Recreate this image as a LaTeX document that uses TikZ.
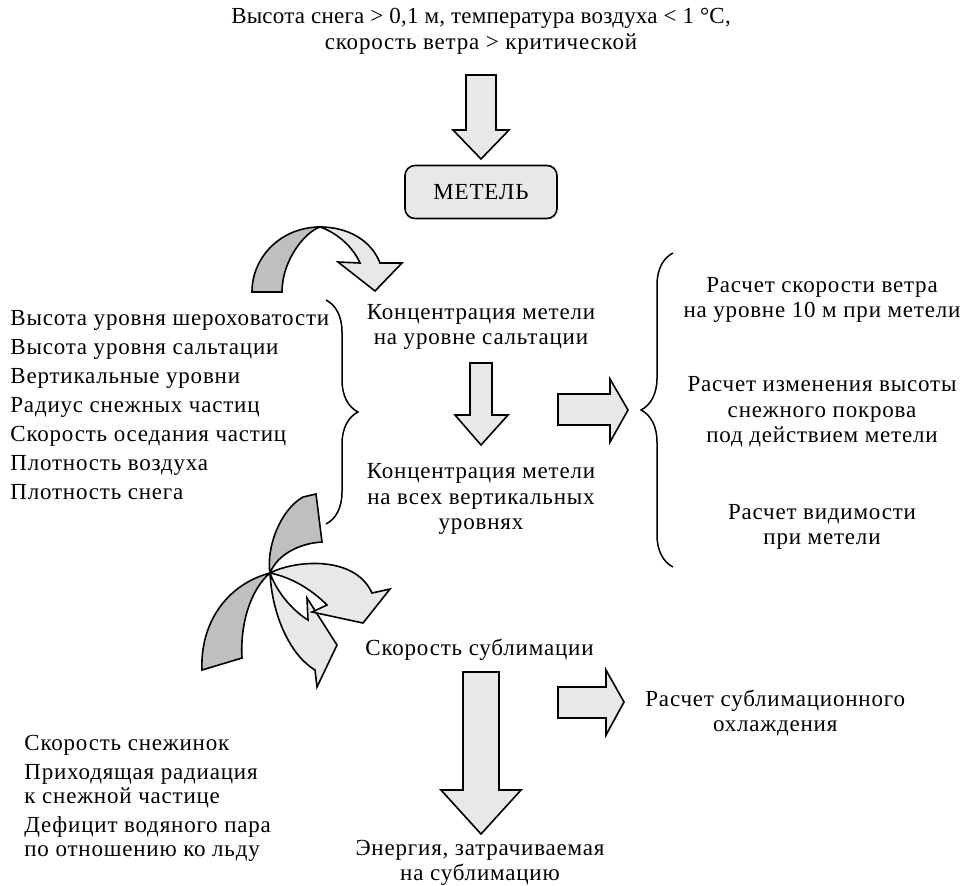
\documentclass[tikz,border=0pt]{standalone}
\usepackage{fontspec}
\setmainfont{Liberation Serif}[LetterSpace=3.5]
\usetikzlibrary{decorations.pathreplacing}

\begin{document}
\begin{tikzpicture}[x=0.5pt,y=-0.5pt,
  every node/.style={font=\fontsize{11.5}{12.8}\selectfont,inner sep=0pt,align=center},
  blockarr/.style={draw,line width=0.8pt,fill=gray!18,line join=miter},
  backpart/.style={draw,line width=0.8pt,fill=gray!50},
  curly/.style={decorate,decoration={brace,amplitude=16pt},line width=0.75pt}]
\useasboundingbox (0,0) rectangle (962,885);

% texts
\node (cond) at (481,31) {\addfontfeature{LetterSpace=1}Высота снега > 0,1 м, температура воздуха < 1 °C,\\скорость ветра > критической};
\node[draw,line width=0.8pt,fill=gray!18,rounded corners=5pt,minimum width=76pt,minimum height=26.5pt] (metel) at (481,192) {МЕТЕЛЬ};
\node (salt) at (481,327) {Концентрация метели\\на уровне сальтации};
\node (vert) at (481,499) {Концентрация метели\\на всех вертикальных\\уровнях};
\node[anchor=west] (subl) at (365,650) {Скорость сублимации};
\node (energy) at (480,863) {Энергия, затрачиваемая\\на сублимацию};
\node (wind) at (822,300) {Расчет скорости ветра\\на уровне 10 м при метели};
\node (depth) at (822,412) {Расчет изменения высоты\\снежного покрова\\под действием метели};
\node (vis) at (822,527) {Расчет видимости\\при метели};
\node[anchor=west] (cool) at (645,713) {Расчет сублимационного\\охлаждения};
\node[anchor=north west,align=left,font=\fontsize{11.5}{14.5}\selectfont] (params) at (10,310) {%
Высота уровня шероховатости\\Высота уровня сальтации\\Вертикальные уровни\\Радиус снежных частиц\\%
Скорость оседания частиц\\Плотность воздуха\\Плотность снега};
\node[anchor=north west,align=left,font=\fontsize{11.5}{12}\selectfont] (inputs) at (24,735) {%
Скорость снежинок\\[2.5pt]Приходящая радиация\\к снежной частице\\[2.5pt]Дефицит водяного пара\\по отношению ко льду};

% braces
\draw[curly] (326,300) -- (326,524);
\draw[curly] (673,567) -- (673,253);

% straight arrows
\draw[blockarr] (466,75) -- (496,75) -- (496,130) -- (509,130) -- (481,159) -- (453,130) -- (466,130) -- cycle;
\draw[blockarr] (470,363) -- (492,363) -- (492,415) -- (508,415) -- (481,445) -- (455,415) -- (470,415) -- cycle;
\draw[blockarr] (558,394) -- (610,394) -- (610,379) -- (628,410) -- (610,442) -- (610,425) -- (558,425) -- cycle;
\draw[blockarr] (463,672) -- (499,672) -- (499,790) -- (521,790) -- (481,834) -- (441,790) -- (463,790) -- cycle;
\draw[blockarr] (558,687) -- (606,687) -- (606,670) -- (624,702) -- (606,735) -- (606,718) -- (558,718) -- cycle;

% curved arrow to the saltation level
\draw[backpart] (252,292) .. controls (252,256) and (282,227) .. (320,227)
  .. controls (305,232) and (282,260) .. (282,292) -- cycle;
\draw[blockarr] (320,227) .. controls (350,227) and (372,242) .. (380,263) -- (402,263) -- (375,291)
  -- (338,262) -- (360,263) .. controls (352,245) and (335,232) .. (320,227) -- cycle;

% curved arrows to the sublimation rate
\coordinate (hub) at (270,573);
\draw[backpart] (hub) .. controls (266,548) and (280,510) .. (303,497) -- (316,494) -- (322,542)
  .. controls (302,543) and (278,553) .. (hub) -- cycle;
\draw[backpart] (hub) .. controls (225,585) and (200,625) .. (202,670) -- (242,658)
  .. controls (240,625) and (250,590) .. (hub) -- cycle;
\draw[blockarr] (hub) .. controls (272,615) and (290,655) .. (315,670) -- (317,687) -- (337,645)
  -- (307,598) -- (308,620) .. controls (295,612) and (278,595) .. (hub) -- cycle;
\draw[blockarr] (hub) .. controls (295,560) and (355,555) .. (372,593) -- (390,589) -- (363,623)
  -- (312,612) -- (327,605) .. controls (310,588) and (290,577) .. (hub) -- cycle;
\end{tikzpicture}
\end{document}
